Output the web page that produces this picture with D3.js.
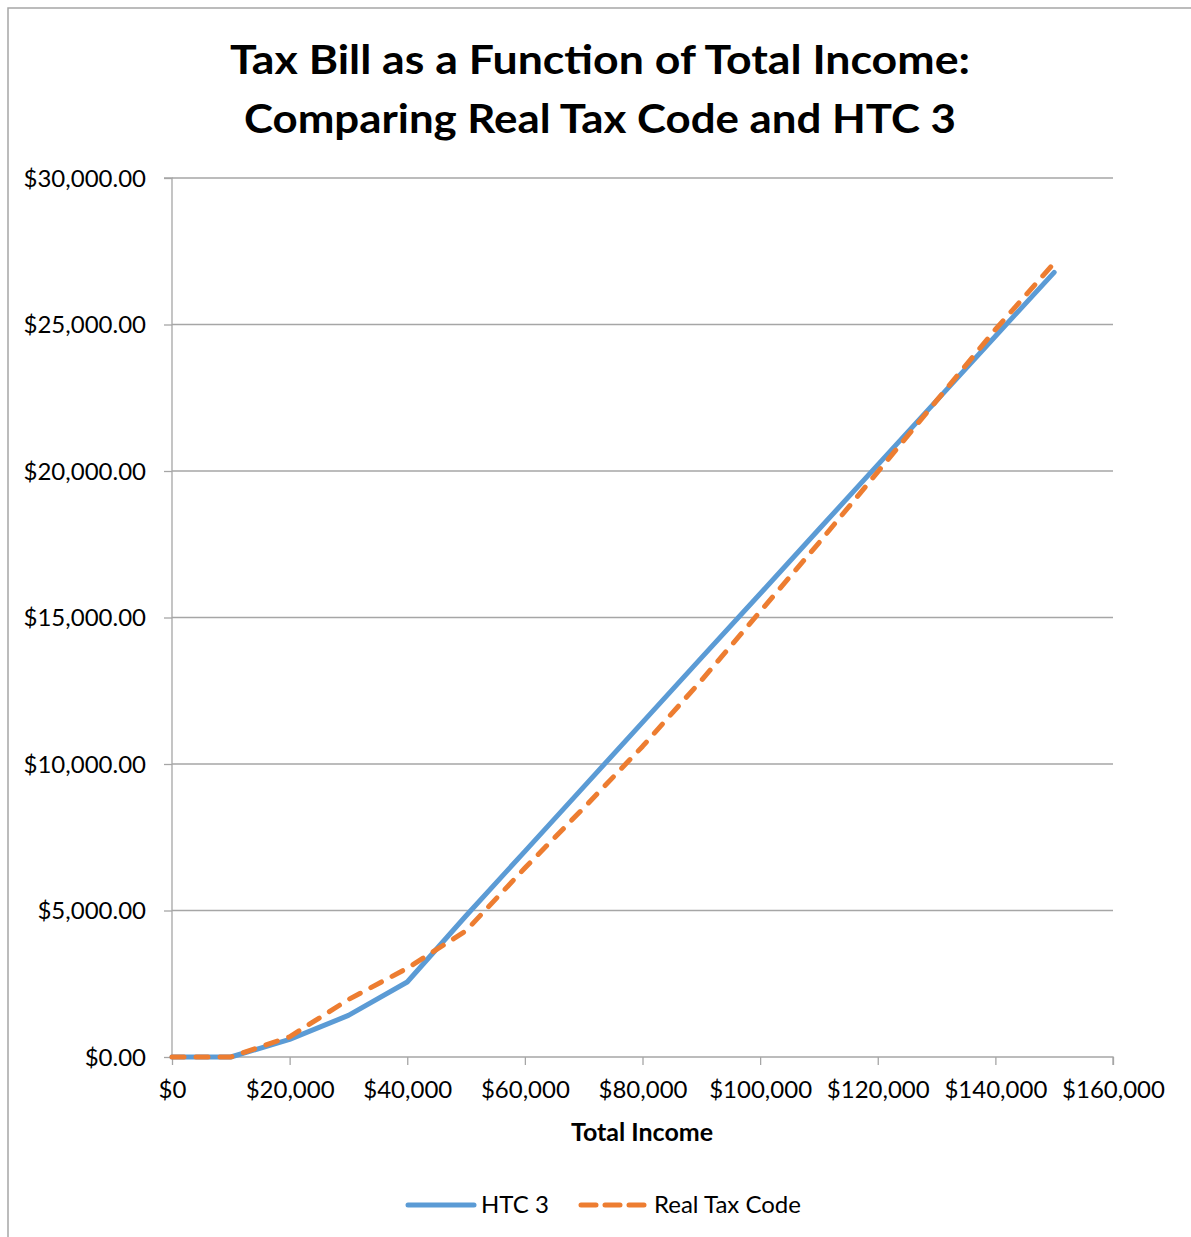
<!DOCTYPE html>
<html>
<head>
<meta charset="utf-8">
<script src="https://cdnjs.cloudflare.com/ajax/libs/d3/7.8.5/d3.min.js"></script>
<style>
  body { margin: 0; background: #fff; }
  svg text { font-family: Lato, "Noto Sans", sans-serif; fill: #000; }
</style>
</head>
<body>
<svg id="chart" width="1191" height="1237"></svg>
<script>
// data
const incomes = [0, 10000, 20000, 30000, 40000, 50000, 60000, 70000, 80000,
                 90000, 100000, 110000, 120000, 130000, 140000, 150000];
const htc3 = [0, 0, 600, 1420, 2560, 4820, 7020, 9220, 11420,
              13620, 15810, 18010, 20210, 22400, 24600, 26780];
const realTax = [0, 0, 690, 1960, 3030, 4310, 6450, 8500, 10600,
                 12850, 15200, 17550, 19970, 22400, 24830, 27100];
const xTicks = [0, 20000, 40000, 60000, 80000, 100000, 120000, 140000, 160000];
const yTicks = [0, 5000, 10000, 15000, 20000, 25000, 30000];
const titleLines = ["Tax Bill as a Function of Total Income:", "Comparing Real Tax Code and HTC 3"];
const titleWidths = [740, 712];

const BLUE = "#5b9bd5", ORANGE = "#ed7d31", GRID = "#a6a6a6";

const svg = d3.select("#chart");

// outer chart frame (only top and left edges show)
svg.append("rect")
   .attr("x", 8).attr("y", 8)
   .attr("width", 1300).attr("height", 1300)
   .attr("fill", "none")
   .attr("stroke", "#a6a6a6")
   .attr("stroke-width", 1.5);

const x = d3.scaleLinear().domain([0, 160000]).range([172, 1113]);
const y = d3.scaleLinear().domain([0, 30000]).range([1057, 178]);

// title
svg.append("g").selectAll("text")
   .data(titleLines)
   .join("text")
   .attr("x", 600)
   .attr("y", (d, i) => 74 + i * 59)
   .attr("text-anchor", "middle")
   .attr("font-size", 41)
   .attr("font-weight", "bold")
   .attr("textLength", (d, i) => titleWidths[i])
   .attr("lengthAdjust", "spacingAndGlyphs")
   .text(d => d);

// gridlines
svg.append("g").selectAll("line")
   .data(yTicks.slice(1))
   .join("line")
   .attr("x1", x(0)).attr("x2", x(160000))
   .attr("y1", d => y(d)).attr("y2", d => y(d))
   .attr("stroke", GRID).attr("stroke-width", 1.3);

// y axis
const yAxis = d3.axisLeft(y)
   .tickValues(yTicks)
   .tickSize(8)
   .tickPadding(18)
   .tickFormat(d => "$" + d3.format(",.2f")(d));
const gy = svg.append("g").attr("transform", `translate(${x(0)},0)`).call(yAxis);
gy.select(".domain").attr("stroke", GRID).attr("stroke-width", 1.3).attr("d", `M-8,${y(30000)}H0V${y(0)}`);
gy.selectAll(".tick line").attr("stroke", GRID).attr("stroke-width", 1.3);
gy.selectAll(".tick text").attr("font-size", 24).attr("font-family", "Lato").attr("dy", "0.35em");

// x axis
const xAxis = d3.axisBottom(x)
   .tickValues(xTicks)
   .tickSize(8)
   .tickPadding(13)
   .tickFormat(d => "$" + d3.format(",")(d));
const gx = svg.append("g").attr("transform", `translate(0,${y(0)})`).call(xAxis);
gx.select(".domain").attr("stroke", GRID).attr("stroke-width", 1.3).attr("d", `M${x(0)},0H${x(160000)}V8`);
gx.selectAll(".tick line").attr("stroke", GRID).attr("stroke-width", 1.3);
gx.selectAll(".tick text").attr("font-size", 24).attr("font-family", "Lato").attr("dy", "0.85em");

// axis title
svg.append("text")
   .attr("x", 642).attr("y", 1141)
   .attr("text-anchor", "middle")
   .attr("font-size", 25).attr("font-weight", "bold")
   .text("Total Income");

// series
const line = d3.line().x(d => x(d[0])).y(d => y(d[1]));

svg.append("path")
   .datum(d3.zip(incomes, htc3))
   .attr("d", line)
   .attr("fill", "none")
   .attr("stroke", BLUE).attr("stroke-width", 5)
   .attr("stroke-linejoin", "round").attr("stroke-linecap", "round");

svg.append("path")
   .datum(d3.zip(incomes, realTax))
   .attr("d", line)
   .attr("fill", "none")
   .attr("stroke", ORANGE).attr("stroke-width", 5)
   .attr("stroke-dasharray", "12,12")
   .attr("stroke-linejoin", "round").attr("stroke-linecap", "round");

// legend
const legend = [
  {name: "HTC 3", color: BLUE, dash: null, x: 408},
  {name: "Real Tax Code", color: ORANGE, dash: "15,9", x: 581}
];
const lg = svg.append("g").selectAll("g").data(legend).join("g");
lg.append("line")
  .attr("x1", d => d.x).attr("x2", d => d.x + 66)
  .attr("y1", 1205).attr("y2", 1205)
  .attr("stroke", d => d.color).attr("stroke-width", 5)
  .attr("stroke-linecap", "round")
  .attr("stroke-dasharray", d => d.dash);
lg.append("text")
  .attr("x", d => d.x + 73).attr("y", 1213)
  .attr("font-size", 24)
  .text(d => d.name);
</script>
</body>
</html>
